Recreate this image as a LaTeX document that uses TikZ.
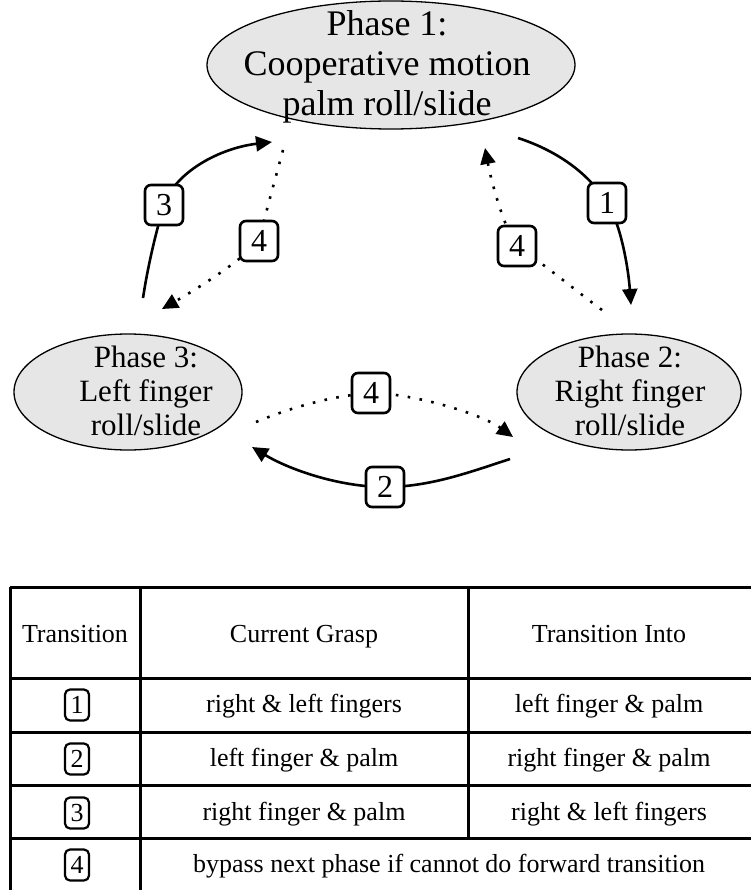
\documentclass[tikz,border=0pt]{standalone}
\usepackage{fontspec}
\setmainfont{Liberation Serif}
\usetikzlibrary{shapes.geometric,arrows.meta}
\definecolor{phasegray}{RGB}{230,230,230}
\begin{document}
\begin{tikzpicture}[x=1pt,y=-1pt,
  phase/.style={ellipse, draw=black, line width=1.3pt, fill=phasegray,
    inner sep=0pt},
  bigtext/.style={align=center, inner sep=0pt, font=\fontsize{36}{40}\selectfont},
  smalltext/.style={align=center, inner sep=0pt, font=\fontsize{31}{34}\selectfont},
  lbl/.style={draw=black, line width=2.6pt, rounded corners=6pt, fill=white,
    minimum width=38pt, minimum height=40pt, inner sep=0pt,
    font=\fontsize{32}{32}\selectfont},
  tlbl/.style={draw=black, line width=2.2pt, rounded corners=5pt, fill=white,
    minimum width=24pt, minimum height=31pt, inner sep=0pt,
    font=\fontsize{26}{26}\selectfont},
  fwd/.style={line width=2.6pt, -{Triangle[length=16pt,width=15pt]}},
  skip/.style={line width=2.6pt, dash pattern=on 2.6pt off 9.4pt,
    -{Triangle[length=16pt,width=15pt]}},
  rule/.style={line width=3pt},
  cell/.style={font=\fontsize{26}{26}\selectfont, inner sep=0pt, anchor=base}]
\useasboundingbox (0,0) rectangle (751,890);
\clip (0,0) rectangle (751,890);

% ---------- phases ----------
\node[phase, minimum width=368pt, minimum height=128pt] (p1) at (391,65) {};
\node[bigtext] (p1t) at (387,67) {Phase 1:\\Cooperative motion\\palm roll/slide};

\node[phase, minimum width=228pt, minimum height=116pt] (p3) at (128,392) {};
\node[smalltext] (p3t) at (146,391) {Phase 3:\\Left finger\\roll/slide};

\node[phase, minimum width=224pt, minimum height=116pt] (p2) at (629,392) {};
\node[smalltext] (p2t) at (630,391) {Phase 2:\\Right finger\\roll/slide};

% ---------- connector end points ----------
\coordinate (t1s) at (518,138);  \coordinate (t1m) at (607,203);  \coordinate (t1e) at (631,305);
\coordinate (t2s) at (510,459);  \coordinate (t2m) at (385,487);  \coordinate (t2e) at (252,447);
\coordinate (t3s) at (143,298);  \coordinate (t3m) at (164,205);  \coordinate (t3e) at (272,142);
\coordinate (r4s) at (602,310);  \coordinate (r4m) at (517,246);  \coordinate (r4e) at (485,148);
\coordinate (l4s) at (283,150);  \coordinate (l4m) at (259,241);  \coordinate (l4e) at (162,309);
\coordinate (b4s) at (256,422);  \coordinate (b4m) at (371,393);  \coordinate (b4e) at (513,437);

% forward transitions
\draw[fwd] (t1s) .. controls (555,150) and (588,172) .. (t1m)
                 .. controls (620,222) and (628,265) .. (t1e);
\draw[fwd] (t2s) .. controls (470,472) and (430,487) .. (t2m)
                 .. controls (340,487) and (290,470) .. (t2e);
\draw[fwd] (t3s) .. controls (148,265) and (156,232) .. (t3m)
                 .. controls (175,172) and (220,148) .. (t3e);

% bypass transitions
\draw[skip] (r4s) .. controls (575,290) and (545,265) .. (r4m)
                  .. controls (505,230) and (492,185) .. (r4e);
\draw[skip] (l4s) .. controls (275,180) and (265,215) .. (l4m)
                  .. controls (240,262) and (195,290) .. (l4e);
\draw[skip] (b4s) .. controls (290,408) and (330,396) .. (b4m)
                  .. controls (410,393) and (480,413) .. (b4e);

% labels on the connectors
\node[lbl] (n1) at (t1m) {1};
\node[lbl] (n2) at (t2m) {2};
\node[lbl] (n3) at (t3m) {3};
\node[lbl] (n4r) at (r4m) {4};
\node[lbl] (n4l) at (l4m) {4};
\node[lbl] (n4b) at (b4m) {4};

% ---------- table ----------
\draw[rule] (10,587) -- (760,587);
\draw[rule] (10,678) -- (760,678);
\draw[rule] (10,732) -- (760,732);
\draw[rule] (10,785) -- (760,785);
\draw[rule] (10,838) -- (760,838);
\draw[rule] (10,587) -- (10,895);
\draw[rule] (140,587) -- (140,895);
\draw[rule] (468,587) -- (468,838);
\draw[rule] (758,587) -- (758,895);
\draw[rule] (10,893) -- (760,893);

\node[cell] (h1) at (75,642) {Transition};
\node[cell] (h2) at (304,642) {Current Grasp};
\node[cell] (h3) at (609,642) {Transition Into};

\node[tlbl] (k1) at (77,705) {1};
\node[cell] (c1) at (304,712) {right \& left fingers};
\node[cell] (d1) at (609,712) {left finger \& palm};

\node[tlbl] (k2) at (77,759) {2};
\node[cell] (c2) at (304,766) {left finger \& palm};
\node[cell] (d2) at (609,766) {right finger \& palm};

\node[tlbl] (k3) at (77,813) {3};
\node[cell] (c3) at (304,820) {right finger \& palm};
\node[cell] (d3) at (609,820) {right \& left fingers};

\node[tlbl] (k4) at (77,865) {4};
\node[cell] (c4) at (449,872) {bypass next phase if cannot do forward transition};
\end{tikzpicture}
\end{document}
